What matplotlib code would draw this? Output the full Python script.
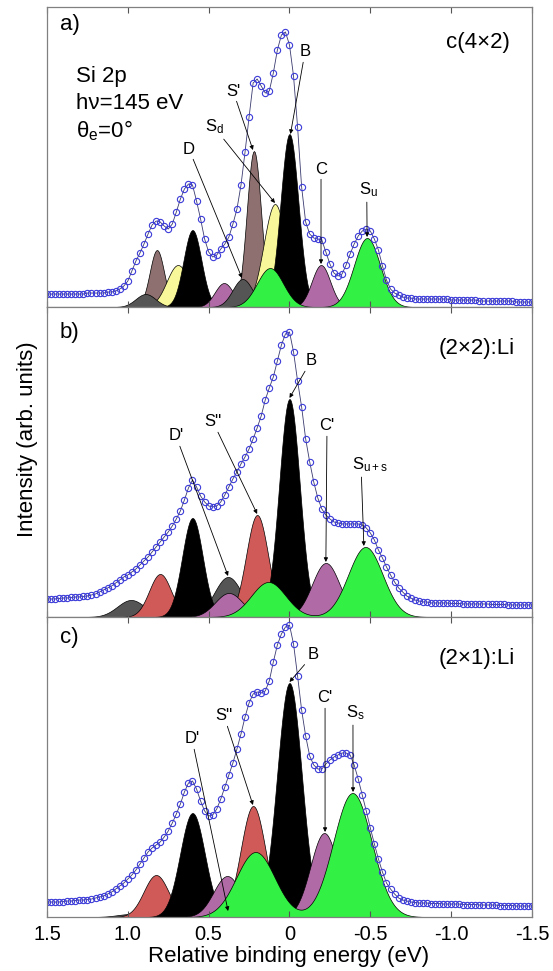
import numpy as np
import matplotlib.pyplot as plt

plt.rcParams['font.family'] = ['Liberation Sans', 'DejaVu Sans']
plt.rcParams['mathtext.fontset'] = 'custom'
plt.rcParams['mathtext.rm'] = 'Liberation Sans'
plt.rcParams['mathtext.it'] = 'Liberation Sans:italic'

# spin-orbit splitting of Si 2p (eV)
so_split = 0.6

# measured spectra, 0.025 eV steps from 1.5 to -1.5 eV
data_energy = np.linspace(1.5, -1.5, 121)
a_data = [13, 13, 13, 13, 13, 13, 13, 13, 13, 13,
          14, 14, 14, 14, 14, 15, 15, 16, 18, 21,
          26, 36, 46, 54, 63, 73, 82, 86, 85, 81,
          78, 83, 95, 108, 118, 123, 122, 106, 88, 68,
          55, 50, 52, 58, 63, 70, 83, 98, 122, 155,
          190, 224, 228, 221, 214, 216, 234, 257, 272, 275,
          262, 231, 180, 120, 85, 73, 69, 68, 67, 55,
          43, 34, 31, 33, 42, 53, 63, 71, 76, 78,
          76, 68, 57, 41, 27, 18, 14, 12, 10, 9,
          9, 8, 8, 8, 8, 8, 8, 8, 8, 8,
          7, 7, 7, 7, 7, 7, 7, 6, 6, 6,
          6, 6, 6, 6, 6, 6, 5, 5, 5, 5,
          5]
b_data = [18, 18, 18, 18.5, 19, 19, 19.5, 20, 20, 20.5,
          21, 22, 23, 25, 27, 29, 31, 34, 37, 40,
          42, 45, 48, 52, 56, 60, 65, 70, 75, 80,
          85, 91, 98, 106, 117, 129, 137, 130, 121, 115,
          111, 110, 111, 115, 122, 130, 138, 145, 153, 160,
          168, 178, 189, 201, 217, 229, 240, 256, 272, 283,
          285, 265, 236, 210, 178, 155, 135, 119, 108, 102,
          98, 95, 94, 93, 93, 93, 93, 93, 92, 89,
          84, 77, 67, 59, 50, 42, 35, 29, 25, 21,
          19, 17, 16, 15, 15, 14, 14, 14, 14, 14,
          13.5, 13.5, 13.5, 13, 13, 13, 13, 13, 13, 13,
          12.5, 12.5, 12.5, 12.5, 12, 12, 12, 12, 12, 12,
          12]
c_data = [15, 15, 15, 15, 15.5, 16, 16, 16.5, 17, 17,
          17.5, 18, 19, 20, 21, 23, 25, 28, 31, 34,
          38, 42, 47, 53, 59, 65, 69, 72, 75, 80,
          86, 94, 103, 113, 125, 134, 136, 128, 116, 106,
          101, 102, 108, 118, 130, 142, 154, 168, 183, 200,
          214, 223, 225, 224, 226, 236, 255, 272, 283, 290,
          292, 273, 241, 207, 181, 161, 152, 148, 148, 153,
          157, 160, 162, 164, 164, 162, 152, 138, 122, 106,
          89, 73, 58, 45, 34, 28, 23, 19, 17, 16,
          15, 14.5, 14, 14, 14, 13.5, 13.5, 13.5, 13, 13,
          13, 13, 13, 12.5, 12.5, 12.5, 12.5, 12, 12, 12,
          12, 12, 11.5, 11.5, 11.5, 11.5, 11, 11, 11, 11,
          11]

# fitted components (2p3/2 position, 2p3/2 and 2p1/2 heights, FWHM)
# panel a: c(4x2)
a_colors = ['#8f7070', '#f8f89a', '#000000', '#b06aa6', '#555555', '#33f044']
a_pos = [0.22, 0.09, 0.0, -0.195, 0.29, -0.48]
a_h1 = [156, 103, 173, 42, 28, 69]
a_h2 = [57, 42, 77, 24, 13, 39]
a_fwhm = [0.105, 0.165, 0.13, 0.135, 0.145, 0.19]

# panel b: (2x2):Li
b_colors = ['#555555', '#d05a58', '#000000', '#b06aa6', '#33f044']
b_pos = [0.38, 0.2, 0.0, -0.225, -0.47]
b_h1 = [40, 102, 218, 54, 70]
b_h2 = [17, 43, 99, 24, 35]
b_fwhm = [0.2, 0.16, 0.15, 0.2, 0.25]

# panel c: (2x1):Li
c_colors = ['#555555', '#d05a58', '#000000', '#b06aa6', '#33f044']
c_pos = [0.38, 0.225, 0.0, -0.215, -0.39]
c_h1 = [8, 111, 234, 84, 124]
c_h2 = [3, 42, 104, 41, 65]
c_fwhm = [0.2, 0.18, 0.18, 0.2, 0.28]

ef = np.linspace(1.5, -1.5, 601)


def gauss(e, c, h, fwhm):
    s = fwhm / 2.3548
    return h * np.exp(-0.5 * ((e - c) / s) ** 2)


def draw_panel(ax, pos, h1, h2, fwhm, colors, data):
    for p, a1, a2, w, col in zip(pos, h1, h2, fwhm, colors):
        y = gauss(ef, p, a1, w) + gauss(ef, p + so_split, a2, w)
        ax.fill_between(ef, 0, y, facecolor=col, edgecolor='k', lw=0.5)
    ax.plot(data_energy, data, '-', color='#3a3a70', lw=0.6,
            marker='o', ms=4.5, mfc='none', mec='#3c3cd8', mew=0.8)


fig = plt.figure(figsize=(5.53, 9.71), dpi=100)
ax_a = fig.add_axes([0.085, 0.6838, 0.877, 0.309])
ax_b = fig.add_axes([0.085, 0.3646, 0.877, 0.3193])
ax_c = fig.add_axes([0.085, 0.0556, 0.877, 0.309])

draw_panel(ax_a, a_pos, a_h1, a_h2, a_fwhm, a_colors, a_data)
draw_panel(ax_b, b_pos, b_h1, b_h2, b_fwhm, b_colors, b_data)
draw_panel(ax_c, c_pos, c_h1, c_h2, c_fwhm, c_colors, c_data)

ticks = [1.5, 1.0, 0.5, 0, -0.5, -1.0, -1.5]
tick_labels = ['1.5', '1.0', '0.5', '0', '-0.5', '-1.0', '-1.5']
for ax, top in zip([ax_a, ax_b, ax_c], [300, 310, 300]):
    ax.set_xlim(1.5, -1.5)
    ax.set_ylim(0, top)
    ax.set_yticks([])
    ax.set_xticks(ticks)
    ax.tick_params(axis='x', direction='in', top=True, length=4, width=0.8,
                   color='#555555', labelsize=14.5, pad=6)
    for s in ax.spines.values():
        s.set_color('#808080')
        s.set_linewidth(0.9)
ax_a.set_xticklabels([])
ax_b.set_xticklabels([])
ax_c.set_xticklabels(tick_labels)

arrow = dict(arrowstyle='-|>', lw=0.6, color='k', mutation_scale=6,
             shrinkA=0, shrinkB=0)
lab = dict(fontsize=12, ha='center', va='center')

# panel a labels
ax_a.text(0.047, 0.94, 'a)', transform=ax_a.transAxes, fontsize=16,
          ha='center', va='center')
ax_a.text(0.955, 0.88, 'c(4×2)', transform=ax_a.transAxes, fontsize=16,
          ha='right', va='center')
ax_a.text(0.06, 0.77, 'Si 2p', transform=ax_a.transAxes, fontsize=16,
          va='center')
ax_a.text(0.06, 0.677, 'hν=145 eV', transform=ax_a.transAxes, fontsize=16,
          va='center')
ax_a.text(0.06, 0.587, 'θ$_\\mathrm{e}$=0°', transform=ax_a.transAxes,
          fontsize=16, va='center')
ax_a.annotate("S'", xy=(0.226, 157), xytext=(0.349, 216), arrowprops=arrow, **lab)
ax_a.annotate('S$_\\mathrm{d}$', xy=(0.09, 104), xytext=(0.467, 180),
              arrowprops=arrow, **lab)
ax_a.annotate('D', xy=(0.294, 29), xytext=(0.622, 158), arrowprops=arrow, **lab)
ax_a.annotate('B', xy=(-0.006, 173), xytext=(-0.096, 255), arrowprops=arrow, **lab)
ax_a.annotate('C', xy=(-0.195, 43), xytext=(-0.195, 138), arrowprops=arrow, **lab)
ax_a.annotate('S$_\\mathrm{u}$', xy=(-0.48, 70), xytext=(-0.49, 117),
              arrowprops=dict(arrow, relpos=(0.4, 0.0)), **lab)

# panel b labels
ax_b.text(0.047, 0.916, 'b)', transform=ax_b.transAxes, fontsize=16,
          ha='center', va='center')
ax_b.text(0.965, 0.865, '(2×2):Li', transform=ax_b.transAxes, fontsize=16,
          ha='right', va='center')
ax_b.annotate("D'", xy=(0.38, 41), xytext=(0.702, 181), arrowprops=arrow, **lab)
ax_b.annotate("S''", xy=(0.2, 103), xytext=(0.473, 195), arrowprops=arrow, **lab)
ax_b.annotate('B', xy=(0.0, 219), xytext=(-0.133, 256), arrowprops=arrow, **lab)
ax_b.annotate("C'", xy=(-0.225, 55), xytext=(-0.232, 191), arrowprops=arrow, **lab)
ax_b.annotate('S$_\\mathrm{u+s}$', xy=(-0.46, 71), xytext=(-0.5, 152),
              arrowprops=dict(arrow, relpos=(0.25, 0.0)), **lab)

# panel c labels
ax_c.text(0.047, 0.933, 'c)', transform=ax_c.transAxes, fontsize=16,
          ha='center', va='center')
ax_c.text(0.965, 0.86, '(2×1):Li', transform=ax_c.transAxes, fontsize=16,
          ha='right', va='center')
ax_c.annotate("D'", xy=(0.38, 6), xytext=(0.603, 178), arrowprops=arrow, **lab)
ax_c.annotate("S''", xy=(0.226, 112), xytext=(0.405, 201), arrowprops=arrow, **lab)
ax_c.annotate('B', xy=(0.0, 235), xytext=(-0.145, 262), arrowprops=arrow, **lab)
ax_c.annotate("C'", xy=(-0.22, 85), xytext=(-0.22, 219), arrowprops=arrow, **lab)
ax_c.annotate('S$_\\mathrm{s}$', xy=(-0.393, 125), xytext=(-0.41, 204),
              arrowprops=dict(arrow, relpos=(0.35, 0.0)), **lab)

fig.text(0.049, 0.548, 'Intensity (arb. units)', rotation=90, fontsize=16,
         ha='center', va='center')
fig.text(0.521, 0.015, 'Relative binding energy (eV)', fontsize=16,
         ha='center', va='center')

fig.savefig('out.png', dpi=100)
